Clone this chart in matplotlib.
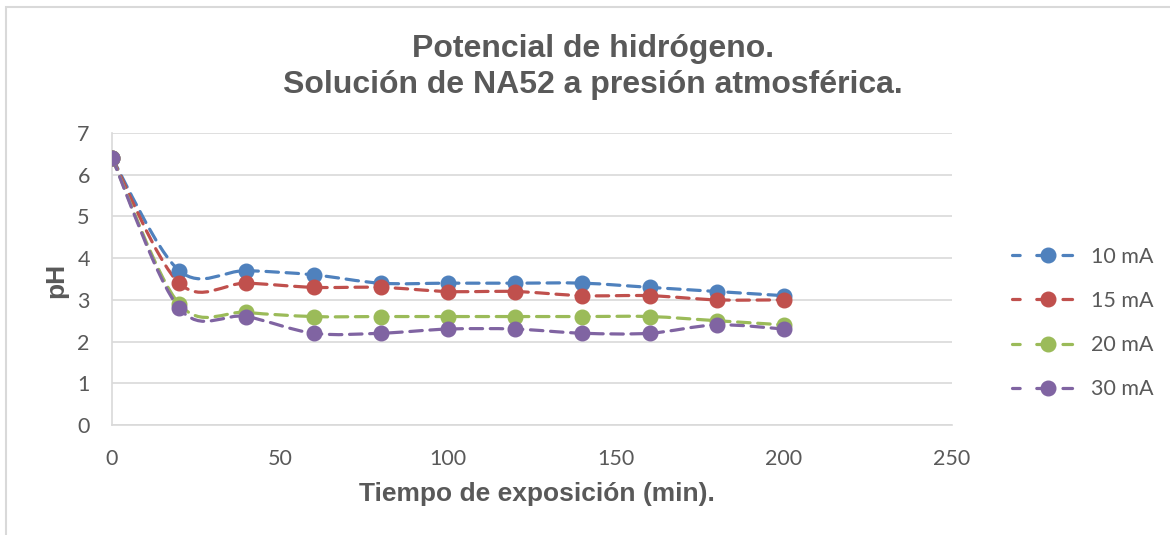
import matplotlib
matplotlib.use("Agg")
import matplotlib.pyplot as plt
from matplotlib.path import Path
from matplotlib.patches import PathPatch, Rectangle
from matplotlib.lines import Line2D
import numpy as np

time_min = [0, 20, 40, 60, 80, 100, 120, 140, 160, 180, 200]
ph_10mA = [6.4, 3.7, 3.7, 3.6, 3.4, 3.4, 3.4, 3.4, 3.3, 3.2, 3.1]
ph_15mA = [6.4, 3.4, 3.4, 3.3, 3.3, 3.2, 3.2, 3.1, 3.1, 3.0, 3.0]
ph_20mA = [6.4, 2.9, 2.7, 2.6, 2.6, 2.6, 2.6, 2.6, 2.6, 2.5, 2.4]
ph_30mA = [6.4, 2.8, 2.6, 2.2, 2.2, 2.3, 2.3, 2.2, 2.2, 2.4, 2.3]
series_labels = ["10 mA", "15 mA", "20 mA", "30 mA"]
x_ticks = [0, 50, 100, 150, 200, 250]
y_ticks = [0, 1, 2, 3, 4, 5, 6, 7]
title_lines = ["Potencial de hidrógeno.", "Solución de NA52 a presión atmosférica."]

colors = ["#4F81BD", "#C0504D", "#9BBB59", "#8064A2"]
grey = "#595959"

W, H = 1170, 535
fig = plt.figure(figsize=(W / 100, H / 100), dpi=100)
ax = fig.add_axes([112 / W, 1 - 425 / H, (952 - 112) / W, (425 - 133) / H])

# chart border
fig.patches.append(Rectangle((6 / W, -0.1), 1.2, 1 - 7 / H + 0.1, transform=fig.transFigure,
                             fill=False, edgecolor="#D9D9D9", linewidth=1.5))


def smooth_path(xs, ys):
    pts = np.column_stack([xs, ys]).astype(float)
    n = len(pts)
    verts = [pts[0]]
    codes = [Path.MOVETO]
    for i in range(n - 1):
        p0 = pts[i - 1] if i > 0 else pts[i]
        p1 = pts[i]
        p2 = pts[i + 1]
        p3 = pts[i + 2] if i + 2 < n else pts[i + 1]
        c1 = p1 + (p2 - p0) / 6.0
        c2 = p2 - (p3 - p1) / 6.0
        verts += [c1, c2, p2]
        codes += [Path.CURVE4] * 3
    return Path(verts, codes)


dash = (0, (3.9, 2.4))
lw = 2.3
handles = []
for ys, c, lab in zip([ph_10mA, ph_15mA, ph_20mA, ph_30mA], colors, series_labels):
    patch = PathPatch(smooth_path(time_min, ys), facecolor="none", edgecolor=c,
                      linewidth=lw, linestyle=dash, capstyle="round", zorder=3)
    ax.add_patch(patch)
    ax.plot(time_min, ys, linestyle="none", marker="o", markersize=10.5,
            color=c, zorder=4)
    handles.append(Line2D([0], [0], color=c, linewidth=lw, linestyle=(0.6, (3.0, 5.2)),
                          marker="o", markersize=10.5, dash_capstyle="round"))

ax.set_xlim(0, 250)
ax.set_ylim(0, 7)
ax.set_xticks(x_ticks)
ax.set_yticks(y_ticks)
ax.grid(axis="y", color="#D9D9D9", linewidth=1.2)
ax.set_axisbelow(True)
for s in ["top", "right"]:
    ax.spines[s].set_visible(False)
for s in ["left", "bottom"]:
    ax.spines[s].set_color("#D9D9D9")
    ax.spines[s].set_linewidth(1.2)
ax.tick_params(length=0, labelsize=15.5, labelcolor=grey)
ax.tick_params(axis="x", pad=17)
ax.tick_params(axis="y", pad=16)
for lab in ax.get_xticklabels() + ax.get_yticklabels():
    lab.set_fontfamily("Lato")

fig.text(537 / W, 1 - 494 / H, "Tiempo de exposición (min).", ha="center", va="center",
         fontsize=19, fontweight="bold", color=grey, family="Liberation Sans")
fig.text(56 / W, 1 - 280 / H, "pH", ha="center", va="center", rotation=90,
         fontsize=19, fontweight="bold", color=grey, family="Liberation Sans")

for t, yy in zip(title_lines, [49, 85]):
    fig.text(593 / W, 1 - yy / H, t, ha="center", va="center", fontsize=23,
             fontweight="bold", color=grey, family="Liberation Sans")

leg = fig.legend(handles=handles, labels=series_labels, loc="center left",
                 bbox_to_anchor=(1012 / W, 1 - 323 / H), frameon=False,
                 prop={"family": "Lato", "size": 15.5}, handlelength=3.3,
                 labelspacing=1.12, handletextpad=0.35, borderaxespad=0, borderpad=0)
for t in leg.get_texts():
    t.set_color(grey)

fig.savefig("out.png", dpi=100)
